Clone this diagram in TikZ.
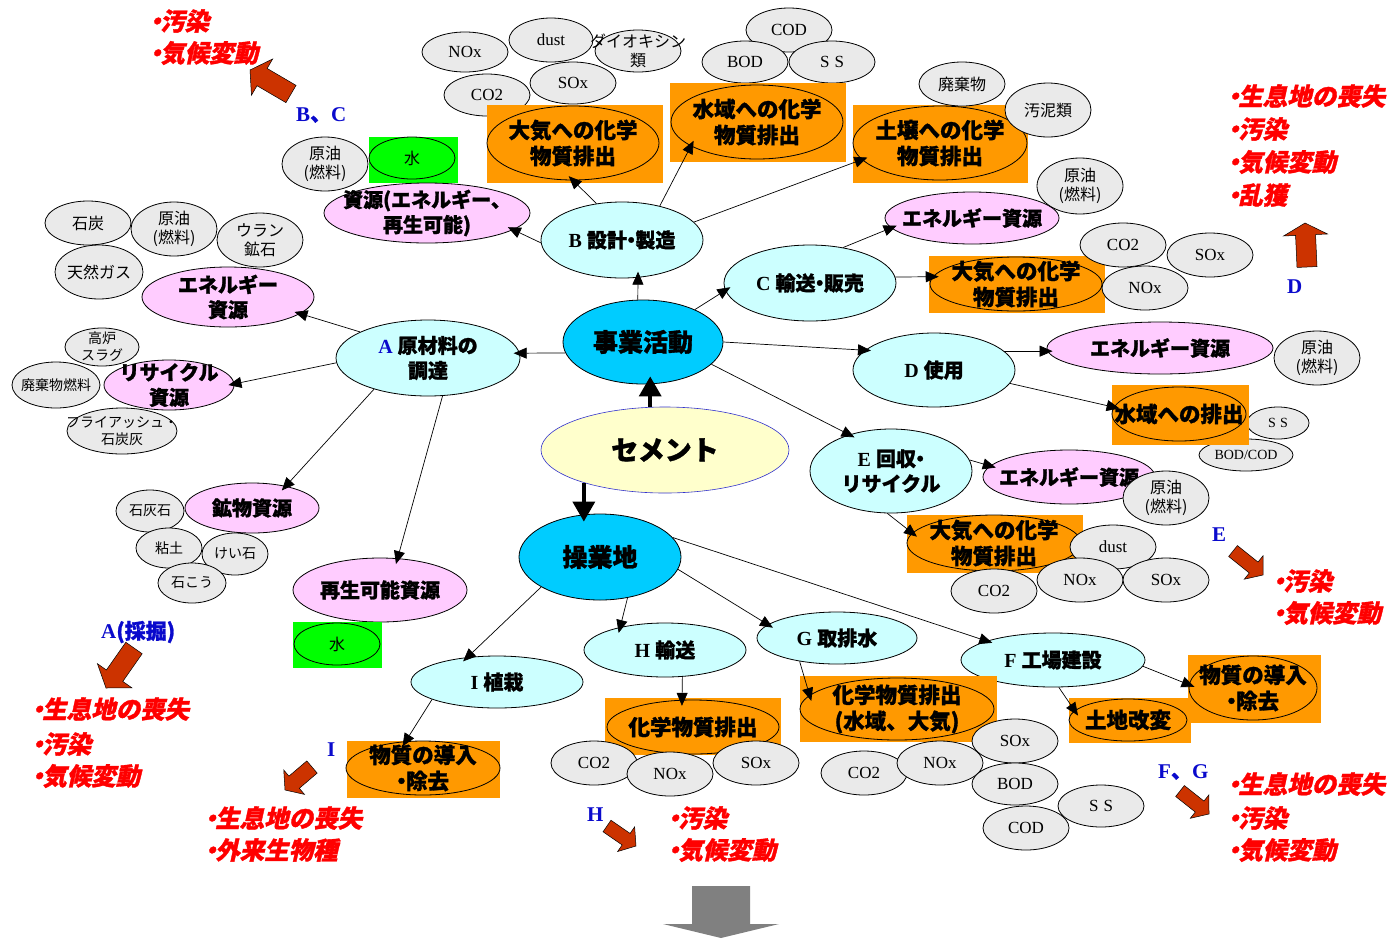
\documentclass[tikz,border=0pt]{standalone}
\usepackage{fontspec}
\setmainfont{Liberation Serif}
\newfontfamily\jp{Noto Sans CJK JP}[BoldFeatures={FakeBold=1.3}]
\newfontfamily\jpsl{Noto Sans CJK JP}[FakeSlant=0.22, BoldFeatures={FakeSlant=0.22, FakeBold=1.3}]
\usetikzlibrary{shapes.geometric,arrows.meta,calc}
\definecolor{cyf}{HTML}{CCFFFF}
\definecolor{blf}{HTML}{00CCFF}
\definecolor{ylf}{HTML}{FFFFCC}
\definecolor{ylb}{HTML}{3333CC}
\definecolor{pkf}{HTML}{FFCCFF}
\definecolor{orf}{HTML}{FF9900}
\definecolor{grf}{HTML}{EAEAEA}
\definecolor{gnf}{HTML}{00FF00}
\definecolor{brn}{HTML}{CC3300}
\definecolor{rdt}{HTML}{FF0000}
\definecolor{blt}{HTML}{0A0ACC}
\definecolor{gra}{HTML}{808080}
\newcommand\dt{\makebox[0.42em]{・}}
\newcommand\bul{\makebox[9pt]{・}}
\newcommand\barrow[5]{%
  \coordinate (bh) at ($(#2)!#5!(#1)$);
  \filldraw[barr] ($(#1)!#3!90:(#2)$) -- ($(bh)!#3!90:(#2)$) -- ($(bh)!#4!90:(#2)$) -- (#2)
    -- ($(bh)!#4!-90:(#2)$) -- ($(bh)!#3!-90:(#2)$) -- ($(#1)!#3!-90:(#2)$) -- cycle;}
\tikzset{
  nell/.style={ellipse, draw=black, line width=0.8pt, inner sep=0pt},
  sz/.style 2 args={minimum width=2*#1, minimum height=2*#2},
  ngr/.style={nell, fill=grf},
  ncy/.style={nell, fill=cyf},
  npk/.style={nell, fill=pkf},
  nbl/.style={nell, fill=blf},
  nor/.style={nell, fill=orf},
  ngn/.style={nell, fill=gnf},
  nyl/.style={nell, fill=ylf, draw=ylb, line width=0.6pt},
  gt/.style={font=\fontsize{17}{19}\selectfont, align=center, inner sep=0pt},
  gts/.style={font=\fontsize{14}{16}\selectfont, align=center, inner sep=0pt},
  gj/.style={font=\jp\fontsize{16}{19}\selectfont, align=center, inner sep=0pt},
  gjs/.style={font=\jp\fontsize{14}{17}\selectfont, align=center, inner sep=0pt},
  ct/.style={font=\bfseries\fontsize{20}{25}\selectfont, align=center, inner sep=0pt},
  bt/.style={font=\jp\bfseries\fontsize{25}{28}\selectfont, align=center, inner sep=0pt},
  pt/.style={font=\jp\bfseries\fontsize{20}{25}\selectfont, align=center, inner sep=0pt},
  ot/.style={font=\jp\bfseries\fontsize{21.5}{26}\selectfont, align=center, inner sep=0pt},
  rt/.style={font=\jpsl\bfseries\fontsize{24.5}{26}\selectfont, text=rdt, anchor=west, inner sep=0pt},
  blab/.style={font=\bfseries\fontsize{21}{23}\selectfont, text=blt, anchor=west, inner sep=0pt},
  conn/.style={draw=black, line width=0.7pt, -{Triangle[length=13pt,width=11pt]}, shorten >=-6pt},
  thk/.style={draw=black, line width=3.5pt, -{Triangle[length=20pt,width=22pt]}, shorten >=-8pt},
  barr/.style={fill=brn, draw=black, line width=0.5pt},
}
\begin{document}
\begin{tikzpicture}[x=1pt,y=-1pt]
\useasboundingbox (0,0) rectangle (1395,938);

% ---------- top emission groups (B)
\node[ngr,sz={43}{20},label={[gt]center:{NOx}}] (nx1) at (465,52) {};
\node[ngr,sz={42}{22},label={[gt]center:{dust}}] (du1) at (551,40) {};
\node[ngr,sz={43}{21},label={[gt]center:{CO2}}] (co1) at (487,95) {};
\node[ngr,sz={43}{21},label={[gt]center:{SOx}}] (so1) at (573,83) {};
\node[ngr,sz={43}{21},label={[gj]center:{ダイオキシン\\類}}] (di1) at (638,51) {};
\fill[orf] (487,105) rectangle (663,183);
\node[nor,sz={86}{37},label={[ot]center:{大気への化学\\物質排出}}] (ob) at (573,143) {};

\node[ngr,sz={43}{22},label={[gt]center:{COD}}] (cod1) at (789,30) {};
\node[ngr,sz={43}{21},label={[gt]center:{BOD}}] (bod1) at (745,62) {};
\node[ngr,sz={43}{21},label={[gt]center:{S\hspace{5pt}S}}] (ss1) at (832,62) {};
\fill[orf] (670,83) rectangle (846,162);
\node[nor,sz={86}{37},label={[ot]center:{水域への化学\\物質排出}}] (ow) at (757,122) {};

\fill[orf] (853,105) rectangle (1028,183);
\node[nor,sz={87}{37},label={[ot]center:{土壌への化学\\物質排出}}] (os) at (940,143) {};
\node[ngr,sz={43}{22},label={[gj]center:{廃棄物}}] (hk) at (962,84) {};
\node[ngr,sz={43}{27},label={[gj]center:{汚泥類}}] (od) at (1048,110) {};

% ---------- B resources
\fill[gnf] (369,137) rectangle (458,183);
\node[ngn,sz={43}{21},label={[gj]center:{水}}] (w1) at (412,158) {};
\node[ngr,sz={43}{27},label={[gj]center:{原油\\(燃料)}}] (gy1) at (325,164) {};
\node[npk,sz={103}{30},label={[pt]center:{資源(エネルギー、\\再生可能)}}] (rs) at (427,213) {};

% ---------- A resources
\node[ngr,sz={43}{22},label={[gj]center:{石炭}}] (sk) at (88,223) {};
\node[ngr,sz={43}{27},label={[gj]center:{原油\\(燃料)}}] (gy3) at (174,229) {};
\node[ngr,sz={43}{27},label={[gj]center:{ウラン\\鉱石}}] (ur) at (260,240) {};
\node[ngr,sz={44}{27},label={[gj]center:{天然ガス}}] (tg) at (99,272) {};
\node[npk,sz={86}{30},label={[pt]center:{エネルギー\\資源}}] (ea) at (228,297) {};

\node[ngr,sz={37}{19},label={[gjs]center:{高炉\\スラグ}}] (kr) at (102,347) {};
\node[ngr,sz={44}{23},label={[gjs]center:{廃棄物燃料}}] (hn) at (56,385) {};
\node[npk,sz={65}{25},label={[pt]center:{リサイクル\\資源}}] (rc) at (169,385) {};
\node[ngr,sz={55}{23},label={[gjs]center:{フライアッシュ・\\石炭灰}}] (fa) at (122,431) {};

\node[ngr,sz={34}{21},label={[gjs]center:{石灰石}}] (sh) at (150,511) {};
\node[ngr,sz={33}{20},label={[gjs]center:{粘土}}] (nd) at (169,548) {};
\node[ngr,sz={33}{21},label={[gjs]center:{けい石}}] (ke) at (235,554) {};
\node[ngr,sz={34}{20},label={[gjs]center:{石こう}}] (sg) at (192,583) {};
\node[npk,sz={67}{25},label={[pt]center:{鉱物資源}}] (km) at (252,508) {};

\node[npk,sz={87}{32},label={[pt]center:{再生可能資源}}] (sk2) at (380,590) {};
\fill[gnf] (293,622) rectangle (382,668);
\node[ngn,sz={43}{21},label={[gj]center:{水}}] (w2) at (337,644) {};

% ---------- central
\node[nbl,sz={80}{42},label={[bt]center:{事業活動}}] (J) at (643,342) {};
\node[nyl,sz={124}{43},label={[bt,font=\jp\bfseries\fontsize{27}{30}\selectfont]center:{セメント}}] (Y) at (665,450) {};
\node[nbl,sz={81}{43},label={[bt]center:{操業地}}] (S) at (600,557) {};

\node[ncy,sz={92}{38},label={[ct]center:{{\color{blt}A} {\jp 原材料の}\\{\jp 調達}}}] (A) at (428,358) {};
\node[ncy,sz={81}{38},label={[ct]center:{B {\jp 設計\dt 製造}}}] (B) at (622,240) {};
\node[ncy,sz={86}{38},label={[ct]center:{C {\jp 輸送\dt 販売}}}] (C) at (810,283) {};
\node[ncy,sz={81}{37},label={[ct]center:{D {\jp 使用}}}] (D) at (934,370) {};
\node[ncy,sz={81}{42},label={[ct]center:{E {\jp 回収\dt}\\{\jp リサイクル}}}] (E) at (891,471) {};
\node[ncy,sz={92}{27},label={[ct]center:{F {\jp 工場建設}}}] (F) at (1053,660) {};
\node[ncy,sz={80}{26},label={[ct]center:{G {\jp 取排水}}}] (G) at (837,638) {};
\node[ncy,sz={81}{27},label={[ct]center:{H {\jp 輸送}}}] (H) at (665,650) {};
\node[ncy,sz={86}{26},label={[ct]center:{I {\jp 植栽}}}] (I) at (497,682) {};

% ---------- C
\node[npk,sz={87}{26},label={[pt]center:{エネルギー資源}}] (ec) at (972,218) {};
\node[ngr,sz={43}{28},label={[gj]center:{原油\\(燃料)}}] (gy2) at (1080,186) {};
\fill[orf] (929,256) rectangle (1105,313);
\node[nor,sz={86}{27},label={[ot]center:{大気への化学\\物質排出}}] (oc) at (1016,284) {};
\node[ngr,sz={43}{22},label={[gt]center:{CO2}}] (co2) at (1123,245) {};
\node[ngr,sz={43}{22},label={[gt]center:{SOx}}] (so2) at (1210,255) {};
\node[ngr,sz={43}{22},label={[gt]center:{NOx}}] (nx2) at (1145,288) {};

% ---------- D
\node[npk,sz={113}{26},label={[pt]center:{エネルギー資源}}] (ed) at (1160,348) {};
\node[ngr,sz={43}{27},label={[gj]center:{原油\\(燃料)}}] (gy4) at (1317,358) {};
\node[ngr,sz={31}{16},label={[gts]center:{S\hspace{4pt}S}}] (ss2) at (1278,423) {};
\node[ngr,sz={47}{16},label={[gts]center:{BOD/COD}}] (bc) at (1246,455) {};
\fill[orf] (1112,385) rectangle (1249,445);
\node[nor,sz={67}{27},label={[ot]center:{水域への排出}}] (owd) at (1179,414) {};

% ---------- E
\node[npk,sz={86}{27},label={[pt]center:{エネルギー資源}}] (ee) at (1069,477) {};
\node[ngr,sz={43}{27},label={[gj]center:{原油\\(燃料)}}] (gy5) at (1166,498) {};
\fill[orf] (907,515) rectangle (1083,573);
\node[nor,sz={87}{28},label={[ot]center:{大気への化学\\物質排出}}] (oe) at (994,543) {};
\node[ngr,sz={43}{22},label={[gt]center:{dust}}] (du2) at (1113,547) {};
\node[ngr,sz={43}{22},label={[gt]center:{NOx}}] (nx3) at (1080,580) {};
\node[ngr,sz={43}{22},label={[gt]center:{SOx}}] (so3) at (1166,580) {};
\node[ngr,sz={43}{22},label={[gt]center:{CO2}}] (co3) at (994,591) {};

% ---------- I, H, G, F
\fill[orf] (347,741) rectangle (500,798);
\node[nor,sz={77}{27},label={[ot]center:{物質の導入\\\dt 除去}}] (oi) at (423,768) {};

\fill[orf] (605,698) rectangle (781,755);
\node[nor,sz={86}{27},label={[ot]center:{化学物質排出}}] (oh) at (693,727) {};
\node[ngr,sz={43}{22},label={[gt]center:{CO2}}] (co4) at (594,763) {};
\node[ngr,sz={43}{22},label={[gt]center:{NOx}}] (nx4) at (670,774) {};
\node[ngr,sz={43}{22},label={[gt]center:{SOx}}] (so4) at (756,763) {};

\fill[orf] (800,676) rectangle (997,742);
\node[nor,sz={97}{31},label={[ot]center:{化学物質排出\\(水域、大気)}}] (og) at (897,709) {};
\node[ngr,sz={43}{22},label={[gt]center:{CO2}}] (co5) at (864,773) {};
\node[ngr,sz={43}{22},label={[gt]center:{NOx}}] (nx5) at (940,763) {};
\node[ngr,sz={43}{22},label={[gt]center:{SOx}}] (so5) at (1015,741) {};
\node[ngr,sz={43}{21},label={[gt]center:{BOD}}] (bod2) at (1015,784) {};
\node[ngr,sz={43}{22},label={[gt]center:{COD}}] (cod2) at (1026,828) {};
\node[ngr,sz={43}{21},label={[gt]center:{S\hspace{5pt}S}}] (ss3) at (1101,806) {};

\fill[orf] (1188,655) rectangle (1321,723);
\node[nor,sz={64}{32},label={[ot]center:{物質の導入\\\dt 除去}}] (of) at (1253,688) {};
\fill[orf] (1069,698) rectangle (1191,743);
\node[nor,sz={59}{21},label={[ot]center:{土地改変}}] (ol) at (1128,720) {};

% ---------- connectors
\draw[conn] (J.188) -- (A.3);
\draw[conn] (J.97) -- (B.293);
\draw[conn] (J.32) -- (C.185);
\draw[conn] (J.0) -- (D.164);
\draw[conn] (J.342) -- (E.139);
\draw[conn] (A.159) -- (ea.347);
\draw[conn] (A.183) -- (rc.1);
\draw[conn] (A.210) -- (km.33);
\draw[conn] (A.291) -- (sk2.61);
\draw[conn] (B.182) -- (rs.349);
\draw[conn] (B.125) -- (ob.270);
\draw[conn] (B.42) -- (ow.200);
\draw[conn] (B.14) -- (os.192);
\draw[conn] (C.47) -- (ec.187);
\draw[conn] (C.4) -- (oc.175);
\draw[conn] (D.15) -- (D.15 -| ed.west);
\draw[conn] (D.350) -- (owd.174);
\draw[conn] (E.8) -- (ee.172);
\draw[conn] (E.265) -- (oe.173);
\draw[conn] (S.207) -- (I.140);
\draw[conn] (S.304) -- (H.153);
\draw[conn] (S.351) -- (G.169);
\draw[conn] (S.15) -- (F.164);
\draw[conn] (I.195) -- (oi.123);
\draw[conn] (H.303) -- (oh.112);
\draw[conn] (G.212) -- (og.171);
\draw[conn] (F.356) -- (of.177);
\draw[conn] (F.282) -- (ol.170);
\draw[thk] (Y.109) -- (Y.109 |- J.south);
\draw[thk] (Y.202) -- (Y.202 |- S.north);

% ---------- impact texts
\node[rt] (r1) at (151,21) {\bul 汚染};
\node[rt] (r2) at (151,53) {\bul 気候変動};
\node[rt] (r3) at (1229,96) {\bul 生息地の喪失};
\node[rt] (r4) at (1229,129) {\bul 汚染};
\node[rt] (r5) at (1229,162) {\bul 気候変動};
\node[rt] (r6) at (1229,195) {\bul 乱獲};
\node[rt] (r7) at (1274,581) {\bul 汚染};
\node[rt] (r8) at (1274,613) {\bul 気候変動};
\node[rt] (r9) at (33,709) {\bul 生息地の喪失};
\node[rt] (r10) at (33,744) {\bul 汚染};
\node[rt] (r11) at (33,776) {\bul 気候変動};
\node[rt] (r12) at (206,818) {\bul 生息地の喪失};
\node[rt] (r13) at (206,850) {\bul 外来生物種};
\node[rt] (r14) at (669,818) {\bul 汚染};
\node[rt] (r15) at (669,850) {\bul 気候変動};
\node[rt] (r16) at (1229,784) {\bul 生息地の喪失};
\node[rt] (r17) at (1229,818) {\bul 汚染};
\node[rt] (r18) at (1229,850) {\bul 気候変動};

% ---------- stage letters
\node[blab] (l1) at (296,115) {B{\jp 、}C};
\node[blab] (l2) at (1287,287) {D};
\node[blab] (l3) at (1212,535) {E};
\node[blab] (l4) at (101,632) {A{\jp (採掘)}};
\node[blab] (l5) at (327,750) {I};
\node[blab] (l6) at (587,815) {H};
\node[blab] (l7) at (1158,772) {F{\jp 、}G};

% ---------- block arrows
\coordinate (ba1t) at (291,94);   \coordinate (ba1h) at (250,70);
\barrow{ba1t}{ba1h}{10pt}{21pt}{14pt}
\coordinate (ba2t) at (1307,267); \coordinate (ba2h) at (1305,223);
\barrow{ba2t}{ba2h}{10pt}{22pt}{12pt}
\coordinate (ba3t) at (1233,551); \coordinate (ba3h) at (1263,575);
\barrow{ba3t}{ba3h}{7pt}{15pt}{12pt}
\coordinate (ba4t) at (134,648);  \coordinate (ba4h) at (106,688);
\barrow{ba4t}{ba4h}{10pt}{21pt}{15pt}
\coordinate (ba5t) at (312,767);  \coordinate (ba5h) at (285,790);
\barrow{ba5t}{ba5h}{8pt}{16pt}{12pt}
\coordinate (ba6t) at (607,826);  \coordinate (ba6h) at (636,846);
\barrow{ba6t}{ba6h}{7pt}{15pt}{12pt}
\coordinate (ba7t) at (1180,791); \coordinate (ba7h) at (1209,814);
\barrow{ba7t}{ba7h}{7pt}{15pt}{12pt}

% ---------- bottom grey arrow
\fill[gra] (692,886) -- (750,886) -- (750,924) -- (779,924) -- (721,938) -- (663,924) -- (692,924) -- cycle;
\end{tikzpicture}
\end{document}
